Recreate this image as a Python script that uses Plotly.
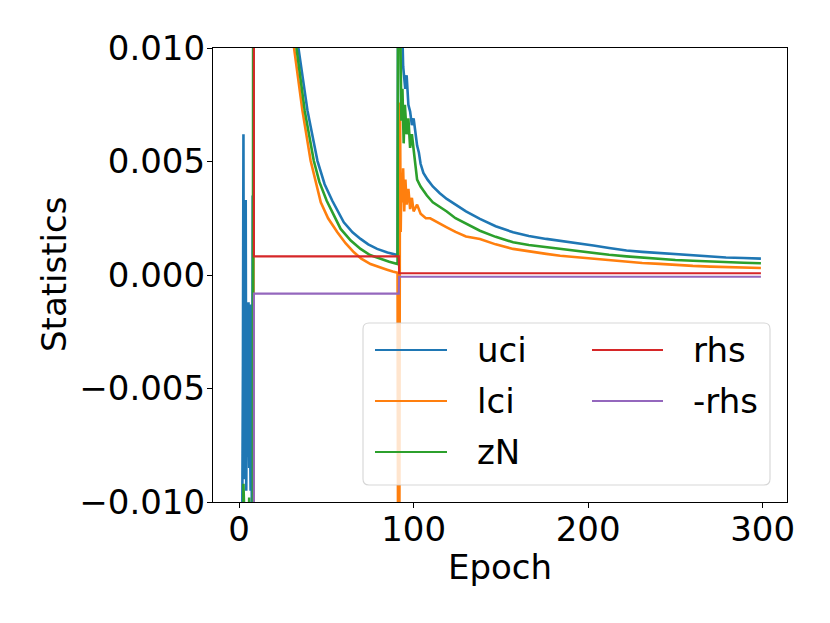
import plotly.graph_objects as go

# ---------------- data ----------------
uci_x = [0, 1, 1.8, 2.2, 2.5, 2.8, 3.3, 3.8, 4.1, 4.3, 4.6, 4.8,
         5.0, 5.2, 5.4, 5.6, 5.8, 6.0, 6.2, 6.4, 6.6, 6.8, 7.0, 7.2, 7.4, 7.8, 8.1, 8.5,
         12, 16, 20, 25, 30, 34, 39.2, 44.9, 49, 53.4,
         60, 65, 69.6, 74, 79.1, 85, 90.8, 91.5, 92.5, 93.3,
         94, 95.2, 96, 97, 98, 99, 100, 101, 102, 103,
         104, 105.6, 108, 111, 115, 119, 124, 130, 138, 147,
         157, 166, 176, 184, 195, 203, 212, 222, 231, 241,
         250, 260, 270, 279, 289, 299]
uci_y = [-0.025, -0.018, -0.011, -0.004, 0.0062, -0.009, -0.003, 0.0033, -0.0095, -0.004, -0.0028, -0.008,
         -0.0075, -0.002, -0.0012, -0.007, -0.0085, -0.003, -0.0013, -0.008, -0.0095, -0.005, -0.0045, -0.009, -0.011, 0.0035, -0.012, 0.09,
         0.05, 0.033, 0.024, 0.0165, 0.0125, 0.0100, 0.00724, 0.00503, 0.0040, 0.00327,
         0.00232, 0.00188, 0.00159, 0.00135, 0.00115, 0.00099, 0.00088, 0.03, 0.014, 0.0105,
         0.0092, 0.0082, 0.0088, 0.0075, 0.0072, 0.0066, 0.0069, 0.0063, 0.0057, 0.0054,
         0.0049, 0.0045, 0.0042, 0.0039, 0.0036, 0.00335, 0.0031, 0.0028, 0.00247, 0.00215,
         0.00188, 0.00172, 0.00159, 0.00151, 0.0014, 0.0013, 0.00119, 0.00108, 0.00102, 0.00097,
         0.00091, 0.00085, 0.0008, 0.00077, 0.00075, 0.00072]

lci_x = [0, 4, 8.1, 8.5, 12, 16, 20, 25, 29, 31.5,
         36.3, 41, 46.8, 51, 56.3, 61, 65.8, 70, 75.3, 80,
         84.8, 88, 90.8, 91.5, 92.2, 92.6, 93, 93.5, 94, 94.6,
         95.3, 96, 97, 98, 99, 100, 102, 104, 107, 109.5,
         114, 119, 124, 130, 138, 147, 157, 166, 176, 184,
         195, 203, 212, 222, 231, 241, 250, 260, 270, 279,
         289, 299]
lci_y = [-0.04, -0.03, -0.02, 0.08, 0.044, 0.029, 0.021, 0.0148, 0.0113, 0.0100,
         0.00724, 0.00503, 0.0032, 0.0025, 0.00188, 0.0014, 0.0010, 0.00072, 0.00048, 0.00034,
         0.00023, 0.00015, 0.0001, -0.03, 0.0076, 0.0019, 0.0045, 0.0032, 0.0047, 0.0028,
         0.0042, 0.0031, 0.0038, 0.0029, 0.0034, 0.0028, 0.0031, 0.0027, 0.0025, 0.0025,
         0.0023, 0.0021, 0.0019, 0.0017, 0.00159, 0.00135, 0.00115, 0.00103, 0.00093, 0.00085,
         0.00078, 0.0007, 0.00064, 0.00058, 0.00053, 0.00049, 0.00044, 0.0004, 0.00037, 0.00035,
         0.00033, 0.00031]

zN_x = [0, 1.5, 2.5, 3.0, 4.5, 5.8, 6.2, 7.9, 8.5, 12,
        16, 20, 25, 30, 32.9, 37.6, 42.8, 46, 50.2, 54,
        58.2, 64, 69.6, 75, 81, 86, 90.8, 91.5, 92.2, 93,
        93.6, 94.3, 95, 96, 97, 98, 99, 100, 101, 102,
        104, 107.6, 111, 115, 119, 124, 130, 138, 147, 157,
        166, 176, 184, 195, 203, 212, 222, 231, 241, 250,
        260, 270, 279, 289, 299]
zN_y = [-0.03, -0.02, -0.0092, -0.012, -0.015, -0.0098, -0.012, -0.011, 0.085, 0.047,
        0.031, 0.022, 0.0155, 0.0118, 0.0100, 0.00724, 0.00503, 0.0041, 0.00327, 0.0027,
        0.00203, 0.00152, 0.00115, 0.00088, 0.0007, 0.00058, 0.00048, 0.03, 0.012, 0.0068,
        0.0082, 0.0058, 0.0075, 0.0062, 0.0069, 0.0056, 0.0062, 0.0055, 0.0047, 0.0042,
        0.0039, 0.0035, 0.0032, 0.0030, 0.0028, 0.0025, 0.00225, 0.00195, 0.00168, 0.00144,
        0.00132, 0.00122, 0.00115, 0.00104, 0.00097, 0.00089, 0.00082, 0.00076, 0.0007, 0.00066,
        0.00063, 0.00059, 0.00056, 0.00054, 0.00052]

rhs_x = [0, 8.4, 8.5, 30, 60, 91.5, 91.7, 150, 299]
rhs_y = [0.03, 0.03, 0.00082, 0.00081, 0.00082, 0.00082, 0.00008, 0.00008, 0.00008]
neg_rhs_y = [-v for v in rhs_y]

series_names = ["uci", "lci", "zN", "rhs", "-rhs"]
series_colors = ["#1f77b4", "#ff7f0e", "#2ca02c", "#d62728", "#9467bd"]
series_widths = [2.6, 2.6, 2.6, 2.1, 2.1]
series_xs = [uci_x, lci_x, zN_x, rhs_x, rhs_x]
series_ys = [uci_y, lci_y, zN_y, rhs_y, neg_rhs_y]

x_ticks = [0, 100, 200, 300]
y_ticks = [-0.010, -0.005, 0.0, 0.005, 0.010]
y_tick_text = ["\u22120.010", "\u22120.005", "0.000", "0.005", "0.010"]

# ---------------- figure ----------------
W, H = 830, 623
OFF = 8  # page body margin offset in the browser
L, R, T, B = 213, 787, 48, 502   # target plot-area pixels on screen
FONT = "DejaVu Sans"
FS = 34

def px(xp):
    return (xp - L) / (R - L)

def py(yp):
    return (B - yp) / (B - T)

fig = go.Figure()
for name, col, wd, xs, ys in zip(series_names, series_colors, series_widths, series_xs, series_ys):
    fig.add_trace(go.Scatter(x=xs, y=ys, mode="lines", name=name,
                             line=dict(color=col, width=wd), showlegend=False))

axis_common = dict(showline=True, linecolor="black", linewidth=1.1, mirror=True,
                   ticks="outside", ticklen=5, tickwidth=1.1, tickcolor="black",
                   showgrid=False, zeroline=False,
                   tickfont=dict(family=FONT, size=FS, color="black"))

fig.update_layout(
    width=W, height=H,
    margin=dict(l=L - OFF, r=W - (R - OFF), t=T - OFF, b=H - (B - OFF)),
    paper_bgcolor="white", plot_bgcolor="white",
    font=dict(family=FONT, size=FS, color="black"),
    xaxis=dict(range=[-14.95, 313.95], tickvals=x_ticks, ticklabelstandoff=-8, **axis_common),
    yaxis=dict(range=[-0.010, 0.010], tickvals=y_ticks, ticktext=y_tick_text,
               ticklabelstandoff=-5, **axis_common),
    showlegend=False,
)

# axis titles
fig.add_annotation(text="Epoch", xref="paper", yref="paper", x=px(500), y=py(567),
                   showarrow=False, font=dict(family=FONT, size=FS, color="black"),
                   xanchor="center", yanchor="middle")
fig.add_annotation(text="Statistics", xref="paper", yref="paper", x=px(54), y=py(275),
                   showarrow=False, textangle=-90, font=dict(family=FONT, size=FS, color="black"),
                   xanchor="center", yanchor="middle")

# legend box (matplotlib style, two columns)
x0, x1, y0, y1 = 363, 770, 323, 485
r = 6
rx, ry = r / (R - L), r / (B - T)
X0, X1, Y0, Y1 = px(x0), px(x1), py(y1), py(y0)
path = (f"M{X0+rx},{Y0} L{X1-rx},{Y0} Q{X1},{Y0} {X1},{Y0+ry} "
        f"L{X1},{Y1-ry} Q{X1},{Y1} {X1-rx},{Y1} L{X0+rx},{Y1} Q{X0},{Y1} {X0},{Y1-ry} "
        f"L{X0},{Y0+ry} Q{X0},{Y0} {X0+rx},{Y0} Z")
fig.add_shape(type="path", path=path, xref="paper", yref="paper",
              fillcolor="rgba(255,255,255,0.8)", line=dict(color="rgba(204,204,204,0.8)", width=1.1),
              layer="above")

rows = [350, 401, 452]
cols = [(375, 447, 475), (592, 663, 691)]
positions = [(0, 0), (0, 1), (0, 2), (1, 0), (1, 1)]
for name, col, (c, rr) in zip(series_names, series_colors, positions):
    lx0, lx1, tx = cols[c]
    yy = rows[rr]
    fig.add_shape(type="line", xref="paper", yref="paper",
                  x0=px(lx0), x1=px(lx1), y0=py(yy), y1=py(yy),
                  line=dict(color=col, width=2.1), layer="above")
    fig.add_annotation(text=name, xref="paper", yref="paper", x=px(tx), y=py(yy),
                       showarrow=False, xanchor="left", yanchor="middle",
                       font=dict(family=FONT, size=FS, color="black"))

fig.write_html("out.html")
